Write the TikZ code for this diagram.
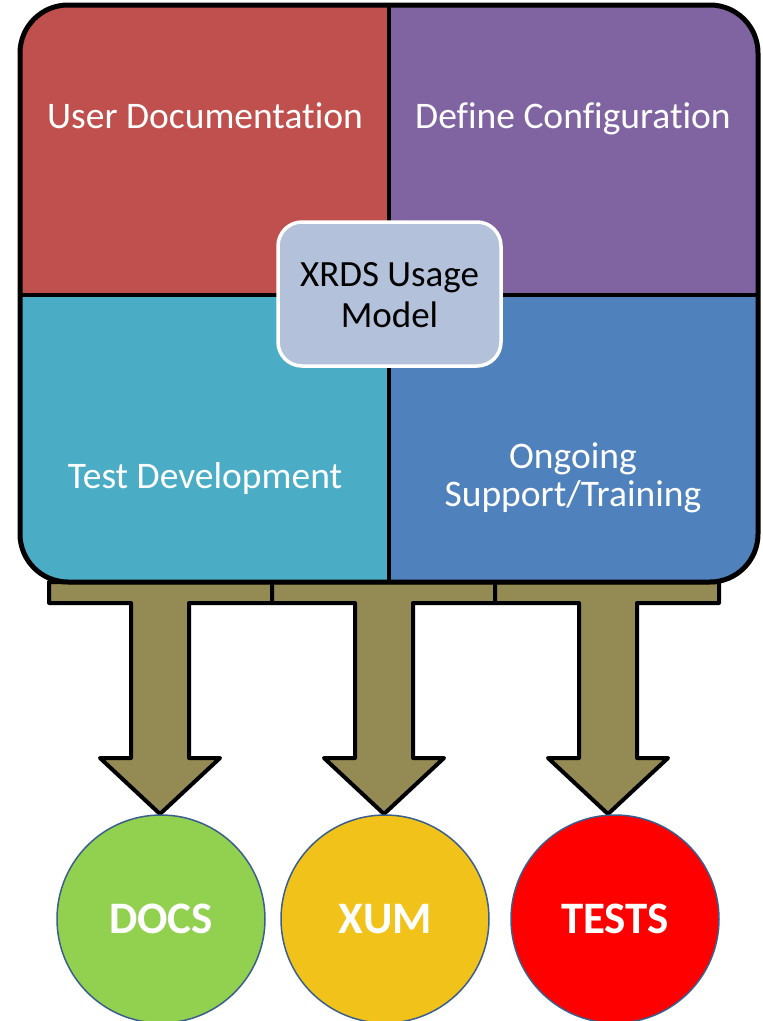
\documentclass[tikz,border=0pt]{standalone}
\usepackage{fontspec}
\setmainfont{Carlito}[Ligatures=NoCommon]
\definecolor{qred}{HTML}{C0504D}
\definecolor{qpurple}{HTML}{8064A2}
\definecolor{qcyan}{HTML}{4BACC6}
\definecolor{qblue}{HTML}{4F81BD}
\definecolor{hubfill}{HTML}{B3C2DA}
\definecolor{olive}{HTML}{948A54}
\definecolor{cgreen}{HTML}{92D050}
\definecolor{cyellow}{HTML}{F1C31A}
\definecolor{cred}{HTML}{FF0000}
\definecolor{cedge}{HTML}{3A5F8C}
\tikzset{
  qtext/.style={text=white, font=\fontsize{37.5}{40}\selectfont, anchor=base, inner sep=0pt},
  hubtext/.style={text=black, font=\fontsize{37}{40}\selectfont, anchor=base, inner sep=0pt},
  blockarrow/.style={fill=olive, draw=black, line width=4pt, line join=round},
  outcome/.style={circle, minimum size=208pt, inner sep=0pt, draw=cedge, line width=1.5pt,
    text=white, font=\bfseries\fontsize{45}{48}\selectfont},
}
\newcommand{\tarrow}[3]{% #1 centre x, #2 bar left, #3 bar right
  \path[blockarrow] (#2,582) -- (#3,582) -- (#3,603) -- (#1+29,603) -- (#1+29,758)
    -- (#1+60,758) -- (#1,814) -- (#1-60,758) -- (#1-29,758) -- (#1-29,603)
    -- (#2,603) -- cycle;}
\begin{document}
\begin{tikzpicture}[x=1pt,y=-1pt]
\useasboundingbox (0,0) rectangle (763,1021);
% block arrows
\tarrow{160}{49}{272}
\tarrow{384}{272}{495}
\tarrow{608}{495}{719}
% outer box quadrants
\begin{scope}
\clip[rounded corners=48pt] (20,5) rectangle (758,582);
\fill[qred] (20,5) rectangle (389,295);
\fill[qpurple] (389,5) rectangle (758,295);
\fill[qcyan] (20,295) rectangle (389,582);
\fill[qblue] (389,295) rectangle (758,582);
\end{scope}
\draw[line width=4pt] (389,5) -- (389,582);
\draw[line width=4pt] (20,295) -- (758,295);
\draw[line width=5pt, rounded corners=48pt] (20,5) rectangle (758,582);
% quadrant labels
\node[qtext] (ud) at (205,128) {User Documentation};
\node[qtext] (dc) at (573,128) {Define Configuration};
\node[qtext] (td) at (205,488) {Test Development};
\node[qtext] (og1) at (573,468) {Ongoing};
\node[qtext] (og2) at (573,506) {Support/Training};
% hub
\draw[fill=hubfill, draw=white, line width=3.5pt, rounded corners=24pt] (278,222) rectangle (501,366);
\node[hubtext] (hub1) at (389.5,286) {XRDS Usage};
\node[hubtext] (hub2) at (389.5,327) {Model};
% outcomes
\node[outcome, fill=cgreen] (docs) at (161,919) {DOCS};
\node[outcome, fill=cyellow] (xum) at (385,919) {XUM};
\node[outcome, fill=cred] (tests) at (615,919) {TESTS};
\end{tikzpicture}
\end{document}
